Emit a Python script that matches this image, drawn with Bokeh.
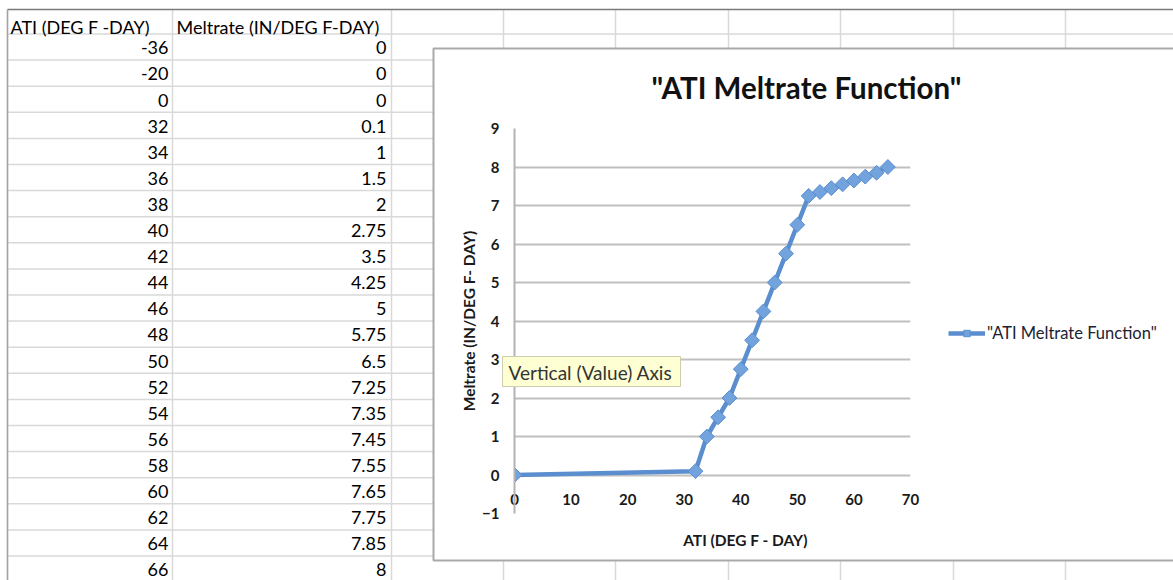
import math
from bokeh.plotting import figure
from bokeh.models import Range1d, FixedTicker, Legend, LegendItem, ColumnDataSource
from bokeh.embed import file_html
from bokeh.resources import INLINE
from bokeh.core.properties import value

# ---------------- data ----------------
ati = [-36, -20, 0, 32, 34, 36, 38, 40, 42, 44, 46, 48, 50, 52, 54, 56, 58, 60, 62, 64, 66]
meltrate = [0, 0, 0, 0.1, 1, 1.5, 2, 2.75, 3.5, 4.25, 5, 5.75, 6.5, 7.25, 7.35, 7.45, 7.55, 7.65, 7.75, 7.85, 8]
col_headers = ["ATI (DEG F -DAY)", "Meltrate (IN/DEG F-DAY)"]
series_name = '"ATI Meltrate Function"'
chart_title = '"ATI Meltrate Function"'
x_ticks = [0, 10, 20, 30, 40, 50, 60, 70]
y_ticks = [-1, 0, 1, 2, 3, 4, 5, 6, 7, 8, 9]
x_axis_title = "ATI (DEG F - DAY)"
y_axis_title = "Meltrate (IN/DEG F- DAY)"
tooltip_text = "Vertical (Value) Axis"

# ---------------- style / geometry (page px) ----------------
FONT = "Lato"
SHEET_GRID = "#d9d9d9"
BOX_LINE = "#a9a9a9"
SERIES = "#5b8ecf"
MARKER_FILL = "#72a3dc"
TEXT = "#1a1a1a"
W, H = 1173, 580

ROW0 = 33.5          # bottom of the header row
ROW_H = 26.1
col_lines = [7, 172, 391, 503, 615, 728, 840, 953, 1065]
BOX_L, BOX_T, BOX_B = 433, 48, 560
FRAME_L, FRAME_R, FRAME_T, FRAME_B = 514, 910, 128, 513


def no_axes(f):
    f.grid.visible = False
    f.outline_line_color = None
    return f


# ---------------- spreadsheet (background) ----------------
sheet = no_axes(figure(width=W, height=H, x_range=Range1d(0, W), y_range=Range1d(H, 0),
                       output_backend="svg", toolbar_location=None, min_border=0,
                       x_axis_location=None, y_axis_location=None))
sheet.background_fill_color = "white"
sheet.border_fill_color = "white"

row_lines = [ROW0 + ROW_H * k for k in range(len(ati) + 1)]
sheet.segment(x0=7, y0=row_lines, x1=W, y1=row_lines, line_color=SHEET_GRID, line_width=1.5)
sheet.segment(x0=col_lines, y0=9, x1=col_lines, y1=H, line_color=SHEET_GRID, line_width=1.5)
sheet.segment(x0=[7], y0=[9], x1=[W], y1=[9], line_color="#7a7a7a", line_width=1.5)
sheet.segment(x0=[7], y0=[9], x1=[7], y1=[H], line_color="#a3a3a3", line_width=1.5)

sheet.text(x=[10, 176], y=[26, 26], text=col_headers, text_font=value(FONT),
           text_font_size="18px", text_color="#000000", text_baseline="middle", text_align="left")
ys = [ROW0 + ROW_H * i + ROW_H / 2 + 0.8 for i in range(len(ati))]
tbl = ColumnDataSource(dict(y=ys, a=[f"{v:g}" for v in ati], m=[f"{v:g}" for v in meltrate]))
sheet.text(x=168, y="y", text="a", source=tbl, text_font=value(FONT), text_font_size="18px",
           text_color="#000000", text_baseline="middle", text_align="right")
sheet.text(x=386, y="y", text="m", source=tbl, text_font=value(FONT), text_font_size="18px",
           text_color="#000000", text_baseline="middle", text_align="right")

# chart box (white area with grey border), its title and the horizontal axis title
sheet.quad(left=[BOX_L], right=[W + 10], top=[BOX_T], bottom=[BOX_B],
           fill_color="white", line_color=BOX_LINE, line_width=2)
sheet.text(x=[806], y=[87], text=[chart_title], text_font=value(FONT),
           text_font_size="29.5px", text_font_style="bold", text_color="#111111",
           text_align="center", text_baseline="middle")
sheet.text(x=[745], y=[539], text=[x_axis_title], text_font=value(FONT),
           text_font_size="15.5px", text_font_style="bold", text_color=TEXT,
           text_align="center", text_baseline="middle")

# ---------------- chart (overlaid on the box) ----------------
CH_L, CH_T = BOX_L + 1, BOX_T + 1
CH_B = BOX_B - 1
p = figure(frame_width=FRAME_R - FRAME_L, frame_height=FRAME_B - FRAME_T,
           x_range=Range1d(0, 70), y_range=Range1d(-1, 9),
           output_backend="svg", toolbar_location=None,
           min_border_left=FRAME_L - CH_L, min_border_right=W - FRAME_R,
           min_border_top=FRAME_T - CH_T, min_border_bottom=CH_B - FRAME_B,
           styles={"position": "absolute", "left": f"{CH_L}px", "top": f"{CH_T}px"})
p.outline_line_color = None
p.background_fill_color = "white"
p.border_fill_alpha = 0

p.xgrid.visible = False
p.ygrid.ticker = FixedTicker(ticks=y_ticks)
p.ygrid.grid_line_color = "#bfbfbf"
p.ygrid.grid_line_width = 2

for ax in (p.xaxis, p.yaxis):
    ax.major_tick_line_color = None
    ax.minor_tick_line_color = None
    ax.major_tick_out = 0
    ax.major_tick_in = 0
    ax.minor_tick_out = 0
    ax.major_label_text_font = FONT
    ax.major_label_text_font_size = "15px"
    ax.major_label_text_font_style = "bold"
    ax.major_label_text_color = TEXT
    ax.axis_label_text_font = FONT
    ax.axis_label_text_font_size = "15.5px"
    ax.axis_label_text_font_style = "bold"
    ax.axis_label_text_color = TEXT

p.yaxis.ticker = FixedTicker(ticks=y_ticks)
p.yaxis.axis_line_color = "#b3b3b3"
p.yaxis.axis_line_width = 2
p.yaxis.major_label_standoff = 15
p.yaxis.axis_label = y_axis_title
p.yaxis.axis_label_standoff = 1

p.xaxis.ticker = FixedTicker(ticks=x_ticks)
p.xaxis.axis_line_color = None
p.xaxis.major_label_standoff = -20

src = ColumnDataSource(dict(x=ati, y=meltrate))
ln = p.line("x", "y", source=src, line_color=SERIES, line_width=4.5, line_join="round")
sc = p.scatter("x", "y", source=src, marker="square", angle=math.pi / 4, size=10.5,
               fill_color=MARKER_FILL, line_color=SERIES, line_width=1)

legend = Legend(items=[LegendItem(label=series_name, renderers=[ln, sc])],
                location=(38, 170), border_line_color=None, background_fill_alpha=0,
                glyph_width=37, glyph_height=16, padding=0, margin=0, label_standoff=2,
                label_text_font=FONT, label_text_font_size="16.5px", label_text_color="#1c2233")
p.add_layout(legend, "right")

# ---------------- tooltip overlay ----------------
TIP_L, TIP_T, TIP_W, TIP_H = 502, 356, 179, 31
tip = no_axes(figure(width=TIP_W, height=TIP_H, x_range=Range1d(0, TIP_W), y_range=Range1d(TIP_H, 0),
                     output_backend="svg", toolbar_location=None, min_border=0,
                     x_axis_location=None, y_axis_location=None,
                     styles={"position": "absolute", "left": f"{TIP_L}px", "top": f"{TIP_T}px"}))
tip.background_fill_color = "#ffffd4"
tip.border_fill_color = "#ffffd4"
tip.outline_line_color = "#cdcdb0"
tip.text(x=[6], y=[TIP_H / 2], text=[tooltip_text], text_font=value(FONT), text_font_size="19px",
         text_color="#333333", text_baseline="middle", text_align="left")

open("out.html", "w").write(file_html([sheet, p, tip], INLINE))
